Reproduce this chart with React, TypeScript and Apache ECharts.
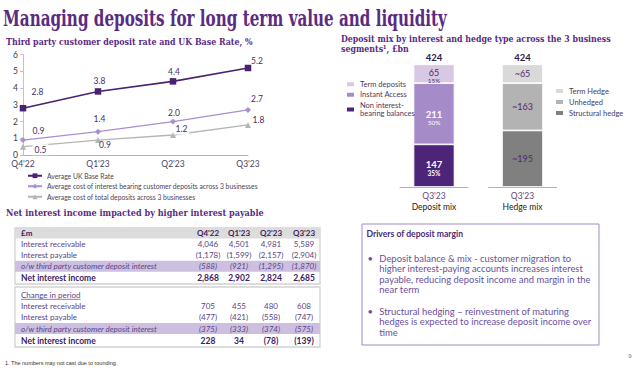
import React, { useEffect, useRef } from 'react';
import * as echarts from 'echarts';

// ---------- data ----------
const quarters = ["Q4'22", "Q1'23", "Q2'23", "Q3'23"];
const baseRate = [2.8, 3.8, 4.4, 5.2];
const interestBearingCost = [0.9, 1.4, 2.0, 2.7];
const totalDepositCost = [0.5, 0.9, 1.2, 1.8];
const lineSeriesNames = [
  'Average UK Base Rate',
  'Average cost of interest bearing customer deposits across 3 businesses',
  'Average cost of total deposits across 3 businesses',
];

const barCategories = ['Deposit mix', 'Hedge mix'];
const barPeriod = "Q3'23";
const depositNames = ['Non interest-\nbearing balances', 'Instant Access', 'Term deposits'];
const depositValues = [147, 211, 65];
const depositShares = [35, 50, 15];
const hedgeNames = ['Structural hedge', 'Unhedged', 'Term Hedge'];
const hedgeValues = [195, 163, 65];
const barTotals = [424, 424];

const rowLabels = ['Interest receivable', 'Interest payable', 'o/w third party customer deposit interest', 'Net interest income'];
const interestReceivable = [4046, 4501, 4981, 5589];
const interestPayable = [-1178, -1599, -2157, -2904];
const depositInterest = [-588, -921, -1295, -1870];
const netInterestIncome = [2868, 2902, 2824, 2685];
const chgInterestReceivable = [705, 455, 480, 608];
const chgInterestPayable = [-477, -421, -558, -747];
const chgDepositInterest = [-375, -333, -374, -575];
const chgNetInterestIncome = [228, 34, -78, -139];

const driversTitle = 'Drivers of deposit margin';
const driverBullets = [
  ['Deposit balance & mix - customer migration to', 'higher interest-paying accounts increases interest', 'payable, reducing deposit income and margin in the', 'near term'],
  ['Structural hedging \u2013 reinvestment of maturing', 'hedges is expected to increase deposit income over', 'time'],
];

// ---------- styling helpers ----------
const SANS = 'Lato, "Noto Sans", sans-serif';
const PURPLE = '#5a2a84';

let ctx: CanvasRenderingContext2D | null = null;
function measure(text: string, font: string) {
  if (!ctx) ctx = document.createElement('canvas').getContext('2d');
  ctx!.font = font;
  return ctx!.measureText(text).width;
}
function txt(text: string, x: number, y: number, font: string, fill: string, align = 'left', extra: any = {}) {
  return {
    type: 'text', x, y, silent: true, ...extra,
    style: { text, font, fill, textAlign: align, align, textVerticalAlign: 'middle', verticalAlign: 'middle' },
  };
}
function slab(text: string, x: number, y: number, size: number, width: number, scale?: number) {
  const font = `bold ${size}px "DejaVu Serif"`;
  const s = scale ?? width / measure(text, font);
  return txt(text, x, y, font, PURPLE, 'left', { scaleX: s });
}
const fmtNum = (n: number) => (n < 0 ? `(${Math.abs(n).toLocaleString('en-US')})` : n.toLocaleString('en-US'));

function buildGraphics() {
  const els: any[] = [];
  els.push(slab('Managing deposits for long term value and liquidity', 3, 17.5, 22, 444));
  els.push(slab('Third party customer deposit rate and UK Base Rate, %', 6, 41.5, 9.5, 247));
  const sub1 = 'Deposit mix by interest and hedge type across the 3 business';
  const subFont = 'bold 9.5px "DejaVu Serif"';
  const subScale = 270 / measure(sub1, subFont);
  els.push(slab(sub1, 341, 38.5, 9.5, 270, subScale));
  els.push(slab('segments\u00b9, \u00a3bn', 341, 48.5, 9.5, 0, subScale));
  els.push(slab('Net interest income impacted by higher interest payable', 6, 212.5, 9.5, 258));

  // tables
  const colX = [208, 239, 271, 304];
  const tx = 15, tw = 305, lx = 21;
  const styles: any = {
    normal: ['8px ' + SANS, '#5b4586'],
    italic: ['italic 8px ' + SANS, '#5b4586'],
    bold: ['bold 8.5px ' + SANS, '#3e2160'],
    head: ['bold 8px ' + SANS, '#3e2160'],
  };
  const kinds = ['normal', 'normal', 'italic', 'bold'];
  // table 1
  els.push({ type: 'rect', silent: true, shape: { x: tx, y: 228, width: tw, height: 56 }, style: { fill: '#fff', stroke: '#d2d2d2', lineWidth: 1.3 } });
  els.push({ type: 'rect', silent: true, shape: { x: tx, y: 228, width: tw, height: 10.5 }, style: { fill: '#dcdcdc' } });
  els.push({ type: 'rect', silent: true, shape: { x: tx, y: 260.8, width: tw, height: 11 }, style: { fill: '#cdbfdf' } });
  els.push(txt('\u00a3m', lx, 233.2, styles.head[0], styles.head[1]));
  quarters.forEach((q, i) => els.push(txt(q, colX[i], 233.2, styles.head[0], styles.head[1], 'center')));
  const t1 = [interestReceivable, interestPayable, depositInterest, netInterestIncome];
  const t1y = [244, 255, 266.3, 278];
  t1.forEach((vals, r) => {
    const [f, c] = styles[kinds[r]];
    els.push(txt(rowLabels[r], lx, t1y[r], f, c));
    vals.forEach((v, i) => els.push(txt(fmtNum(v), colX[i], t1y[r], f, c, 'center')));
  });
  // table 2
  els.push({ type: 'rect', silent: true, shape: { x: tx, y: 287, width: tw, height: 60 }, style: { fill: '#fff', stroke: '#d2d2d2', lineWidth: 1.3 } });
  els.push({ type: 'rect', silent: true, shape: { x: tx, y: 323, width: tw, height: 11 }, style: { fill: '#cdbfdf' } });
  const cip = 'Change in period';
  els.push(txt(cip, lx, 295, styles.normal[0], styles.normal[1]));
  els.push({ type: 'line', silent: true, shape: { x1: lx, y1: 299.3, x2: lx + measure(cip, styles.normal[0]), y2: 299.3 }, style: { stroke: '#5b4586', lineWidth: 0.7 } });
  const t2 = [chgInterestReceivable, chgInterestPayable, chgDepositInterest, chgNetInterestIncome];
  const t2y = [306, 317, 328.5, 341.3];
  t2.forEach((vals, r) => {
    const [f, c] = styles[kinds[r]];
    els.push(txt(rowLabels[r], lx, t2y[r], f, c));
    vals.forEach((v, i) => els.push(txt(fmtNum(v), colX[i], t2y[r], f, c, 'center')));
  });

  // drivers box
  els.push({ type: 'rect', silent: true, shape: { x: 362, y: 224, width: 237, height: 121 }, style: { fill: '#fff', stroke: '#a28bc9', lineWidth: 1 } });
  els.push(txt(driversTitle, 366.5, 234, 'bold 8.6px ' + SANS, '#4b2a74'));
  const refLine = driverBullets[0][1];
  const dSize = (9 * 204) / measure(refLine, '9px ' + SANS);
  const dFont = `${dSize.toFixed(2)}px ${SANS}`;
  const bulletTops = [258, 311];
  driverBullets.forEach((lines, b) => {
    els.push(txt('\u2022', 367.5, bulletTops[b], dFont, '#6a4f9e'));
    lines.forEach((l, k) => els.push(txt(l, 379.3, bulletTops[b] + k * 10.65, dFont, '#6a4f9e')));
  });

  els.push(txt('1. The numbers may not cast due to rounding.', 5, 363, '5.5px "Liberation Sans"', '#333'));
  els.push(txt('9', 630, 356, '6px "Liberation Sans"', '#777', 'center'));
  return els;
}

const lineLabelOffsets = [
  [[14.5, -16], [1.5, -10], [1, -9.5], [9, -7]],
  [[15.5, -9.5], [1.5, -12.5], [1, -8.5], [9, -10.8]],
  [[17.5, 3], [7, 5], [8.5, -6], [10.5, -5]],
];
const maskedLabels = [[], [], [0, 2]];

export default function App() {
  const ref = useRef<HTMLDivElement>(null);
  useEffect(() => {
    if (!ref.current) return;
    const chart = echarts.init(ref.current, undefined, { renderer: 'svg' });

    const lineColors = ['#4b2270', '#a88fd1', '#b5b5b5'];
    const lineSymbols = ['rect', 'diamond', 'triangle'];
    const lineData = [baseRate, interestBearingCost, totalDepositCost];
    const lineSeries = lineData.map((vals, s) => ({
      type: 'line',
      name: lineSeriesNames[s],
      xAxisIndex: 0,
      yAxisIndex: 0,
      z: 3 - s,
      data: vals.map((v, i) => ({
        value: v,
        label: {
          offset: lineLabelOffsets[s][i],
          ...(maskedLabels[s].includes(i) ? { backgroundColor: '#fff', padding: [1, 2] } : {}),
        },
      })),
      symbol: lineSymbols[s],
      symbolSize: s === 0 ? 6.5 : 6,
      lineStyle: { color: lineColors[s], width: s === 0 ? 1.6 : 1.3 },
      itemStyle: { color: lineColors[s] },
      label: { show: true, position: 'inside', fontSize: 8.5, color: '#45305f', formatter: (p: any) => Number(p.value).toFixed(1) },
    }));

    const depositColors = ['#4d2578', '#a58bc7', '#d9c8e3'];
    const depositRich = [
      { v: { fontSize: 9.5, fontWeight: 'bold', color: '#fff', lineHeight: 10 }, p: { fontSize: 6.5, fontWeight: 'bold', color: '#fff', lineHeight: 7.5 } },
      { v: { fontSize: 9.5, fontWeight: 'bold', color: '#fff', lineHeight: 10 }, p: { fontSize: 6.5, color: '#fff', lineHeight: 7.5 } },
      { v: { fontSize: 9, color: '#4b2a6e', lineHeight: 9 }, p: { fontSize: 6.3, color: '#4b2a6e', lineHeight: 6.5 } },
    ];
    const depositOffsets = [[0, 2.5], [0, 4], [0, 2.5]];
    const depositSeries = depositNames.map((name, i) => ({
      type: 'bar',
      name,
      xAxisIndex: 1,
      yAxisIndex: 1,
      stack: 'deposit',
      barWidth: 41,
      data: [depositValues[i]],
      itemStyle: { color: depositColors[i], borderColor: '#fff', borderWidth: 0.8 },
      label: {
        show: true,
        position: 'inside',
        offset: depositOffsets[i],
        formatter: () => `{v|${depositValues[i]}}\n{p|${depositShares[i]}%}`,
        rich: depositRich[i],
      },
    }));
    const hedgeColors = ['#808080', '#b3b3b3', '#d9d9d9'];
    const hedgeSeries = hedgeNames.map((name, i) => ({
      type: 'bar',
      name,
      xAxisIndex: 2,
      yAxisIndex: 2,
      stack: 'hedge',
      barWidth: 41,
      data: [hedgeValues[i]],
      itemStyle: { color: hedgeColors[i], borderColor: '#fff', borderWidth: 0.8 },
      label: { show: true, position: 'inside', formatter: () => `~${hedgeValues[i]}`, fontSize: 9, color: '#4b2a6e' },
    }));
    const totalSeries = [0, 1].map((g) => ({
      type: 'bar',
      xAxisIndex: g + 1,
      yAxisIndex: g + 1,
      stack: g === 0 ? 'deposit' : 'hedge',
      barWidth: 41,
      silent: true,
      data: [0],
      itemStyle: { color: 'rgba(0,0,0,0)' },
      label: { show: true, position: 'top', distance: 2, formatter: () => String(barTotals[g]), fontSize: 9.5, fontWeight: 'bold', color: '#2f1c45' },
    }));

    const barAxis = (grid: number) => ({
      type: 'category',
      gridIndex: grid,
      data: [barCategories[grid - 1]],
      axisLine: { lineStyle: { color: '#b9a8d2', width: 1 } },
      axisTick: { show: false },
      axisLabel: {
        margin: 3,
        formatter: (v: string) => `{q|${barPeriod}}\n{n|${v}}`,
        rich: { q: { fontSize: 8.5, color: '#5e4a7d', lineHeight: 11 }, n: { fontSize: 8.5, color: '#222', lineHeight: 12 } },
      },
    });

    const option: any = {
      animation: false,
      textStyle: { fontFamily: SANS },
      grid: [
        { left: 23, top: 54.6, width: 225, height: 100.5 },
        { left: 400, top: 64, width: 68, height: 123 },
        { left: 488.5, top: 64, width: 68, height: 123 },
      ],
      xAxis: [
        {
          type: 'category', gridIndex: 0, data: quarters, boundaryGap: false,
          axisLine: { lineStyle: { color: '#b9a8d2' } }, axisTick: { show: false },
          axisLabel: { fontSize: 8.5, color: '#4b3f63', margin: 4 },
        },
        barAxis(1),
        barAxis(2),
      ],
      yAxis: [
        {
          type: 'value', gridIndex: 0, min: 0, max: 6, interval: 1,
          axisLine: { show: true, lineStyle: { color: '#c8bcd9' } },
          axisTick: { show: true, length: 3, lineStyle: { color: '#c8bcd9' } },
          splitLine: { show: false },
          axisLabel: { fontSize: 8.5, color: '#3c3c3c', margin: 5 },
        },
        { type: 'value', gridIndex: 1, min: 0, max: 424, show: false },
        { type: 'value', gridIndex: 2, min: 0, max: 424, show: false },
      ],
      legend: [
        {
          data: lineSeriesNames, orient: 'vertical', left: 27, top: 172, padding: 0,
          itemWidth: 14, itemHeight: 6, itemGap: 3,
          textStyle: { fontSize: 6.8, color: '#4a4458', lineHeight: 7.5 },
        },
        {
          data: [depositNames[2], depositNames[1], depositNames[0]], orient: 'vertical', left: 345, top: 80, padding: 0,
          icon: 'rect', itemWidth: 9, itemHeight: 6, itemGap: 2,
          textStyle: { fontSize: 7.5, color: '#4a3a60', lineHeight: 8.5 },
        },
        {
          data: [hedgeNames[2], hedgeNames[1], hedgeNames[0]], orient: 'vertical', left: 554, top: 86.8, padding: 0,
          icon: 'rect', itemWidth: 9, itemHeight: 6, itemGap: 2.5,
          textStyle: { fontSize: 7.5, color: '#4a3a60', lineHeight: 8.5 },
        },
      ],
      series: [...lineSeries, ...depositSeries, ...hedgeSeries, ...totalSeries],
      graphic: { elements: buildGraphics() },
    };
    chart.setOption(option);
    return () => chart.dispose();
  }, []);
  return <div ref={ref} style={{ position: 'fixed', left: 0, top: 0, width: 640, height: 370, background: '#fff' }} />;
}
